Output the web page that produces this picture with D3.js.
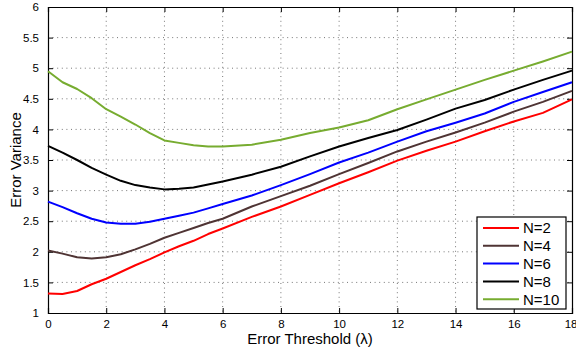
<!DOCTYPE html>
<html>
<head>
<meta charset="utf-8">
<script src="https://cdn.jsdelivr.net/npm/d3@7"></script>
<style>
  body { margin: 0; background: #fff; }
  text { font-family: "Liberation Sans", Arial, sans-serif; }
</style>
</head>
<body>
<div id="chart-area"></div>
<script>
// threshold values (x) shared by every curve
const thresholds = [0, 0.5, 1, 1.5, 2, 2.5, 3, 3.5, 4, 4.5, 5, 5.5, 6, 7, 8, 9, 10, 11, 12, 13, 14, 15, 16, 17, 18]

const n2 = [1.32, 1.31, 1.36, 1.47, 1.56, 1.67, 1.78, 1.88, 1.99, 2.09, 2.18, 2.29, 2.38, 2.57, 2.74, 2.93, 3.12, 3.30, 3.49, 3.65, 3.80, 3.97, 4.13, 4.27, 4.49]
const n4 = [2.02, 1.97, 1.91, 1.89, 1.91, 1.96, 2.04, 2.13, 2.23, 2.31, 2.39, 2.47, 2.54, 2.74, 2.91, 3.08, 3.27, 3.45, 3.64, 3.80, 3.95, 4.11, 4.29, 4.45, 4.63]
const n6 = [2.82, 2.73, 2.63, 2.54, 2.48, 2.46, 2.46, 2.49, 2.54, 2.59, 2.64, 2.71, 2.78, 2.92, 3.09, 3.27, 3.46, 3.62, 3.80, 3.97, 4.11, 4.26, 4.45, 4.61, 4.77]
const n8 = [3.73, 3.62, 3.50, 3.37, 3.26, 3.16, 3.09, 3.05, 3.02, 3.03, 3.05, 3.10, 3.15, 3.26, 3.39, 3.56, 3.72, 3.86, 3.99, 4.16, 4.34, 4.48, 4.65, 4.81, 4.96]
const n10 = [4.95, 4.77, 4.66, 4.51, 4.33, 4.21, 4.08, 3.94, 3.82, 3.78, 3.74, 3.72, 3.72, 3.75, 3.83, 3.94, 4.03, 4.15, 4.33, 4.49, 4.65, 4.81, 4.96, 5.11, 5.27]

const seriesNames = ["N=2", "N=4", "N=6", "N=8", "N=10"]
const seriesValues = [n2, n4, n6, n8, n10]
const seriesColors = ["#ff0000", "#4f3434", "#0000ff", "#000000", "#77ac30"]

const xTicks = [0, 2, 4, 6, 8, 10, 12, 14, 16, 18]
const yTicks = [1, 1.5, 2, 2.5, 3, 3.5, 4, 4.5, 5, 5.5, 6]

const MARGIN = { LEFT: 48, RIGHT: 4, TOP: 7, BOTTOM: 36 }
const WIDTH = 576 - MARGIN.LEFT - MARGIN.RIGHT
const HEIGHT = 349 - MARGIN.TOP - MARGIN.BOTTOM

const svg = d3.select("#chart-area")
  .append("svg")
  .attr("width", 576)
  .attr("height", 349)

const g = svg.append("g")
  .attr("transform", `translate(${MARGIN.LEFT}, ${MARGIN.TOP})`)

const x = d3.scaleLinear().domain([0, 18]).range([0, WIDTH])
const y = d3.scaleLinear().domain([1, 6]).range([HEIGHT, 0])

// dotted grid
g.append("g")
  .selectAll("line")
  .data(xTicks.slice(1, -1))
  .join("line")
    .attr("x1", d => x(d)).attr("x2", d => x(d))
    .attr("y1", 0).attr("y2", HEIGHT)
    .attr("stroke", "#777")
    .attr("stroke-dasharray", "1,3.6")

g.append("g")
  .selectAll("line")
  .data(yTicks.slice(1, -1))
  .join("line")
    .attr("x1", 0).attr("x2", WIDTH)
    .attr("y1", d => y(d)).attr("y2", d => y(d))
    .attr("stroke", "#777")
    .attr("stroke-dasharray", "1,3.6")

// axes, ticks pointing inward on all four sides
const TICK = 5
const xAxisGroup = g.append("g")
  .attr("transform", `translate(0,${HEIGHT})`)
  .call(d3.axisBottom(x).tickValues(xTicks).tickSize(-TICK).tickPadding(9).tickFormat(d3.format("d")))
const xTopGroup = g.append("g")
  .call(d3.axisTop(x).tickValues(xTicks).tickSize(-TICK).tickFormat(""))
const yAxisGroup = g.append("g")
  .call(d3.axisLeft(y).tickValues(yTicks).tickSize(-TICK).tickPadding(9).tickFormat(d => String(d)))
const yRightGroup = g.append("g")
  .attr("transform", `translate(${WIDTH},0)`)
  .call(d3.axisRight(y).tickValues(yTicks).tickSize(-TICK).tickFormat(""))

;[xAxisGroup, xTopGroup, yAxisGroup, yRightGroup].forEach(a => {
  a.select(".domain").attr("stroke", "#000").attr("stroke-width", 1.2)
  a.selectAll(".tick line").attr("stroke", "#000")
  a.selectAll("text")
    .attr("fill", "#000")
    .style("font-size", "11.5px")
})
xAxisGroup.selectAll("text").attr("dy", "0.5em")
// last label sits against the page edge, as in the source figure
xAxisGroup.selectAll(".tick:last-of-type text").attr("text-anchor", "end").attr("dx", "5px")

// curves
const line = d3.line()
  .x((d, i) => x(thresholds[i]))
  .y(d => y(d))

g.append("g")
  .selectAll("path")
  .data(seriesValues)
  .join("path")
    .attr("d", line)
    .attr("fill", "none")
    .attr("stroke", (d, i) => seriesColors[i])
    .attr("stroke-width", 2)
    .attr("stroke-linejoin", "round")

// axis labels
svg.append("text")
  .attr("x", MARGIN.LEFT + WIDTH / 2)
  .attr("y", 344)
  .attr("text-anchor", "middle")
  .attr("font-size", "15px")
  .text("Error Threshold (λ)")

svg.append("text")
  .attr("transform", `translate(21, ${MARGIN.TOP + HEIGHT / 2}) rotate(-90)`)
  .attr("text-anchor", "middle")
  .attr("font-size", "15px")
  .text("Error Variance")

// legend
const legend = svg.append("g").attr("transform", "translate(477, 217)")
legend.append("rect")
  .attr("width", 89).attr("height", 92)
  .attr("fill", "#fff").attr("stroke", "#000").attr("stroke-width", 1.2)

const rows = legend.selectAll("g.row")
  .data(seriesNames)
  .join("g")
    .attr("class", "row")
    .attr("transform", (d, i) => `translate(0, ${11 + i * 17.8})`)

rows.append("line")
  .attr("x1", 6).attr("x2", 42)
  .attr("stroke", (d, i) => seriesColors[i])
  .attr("stroke-width", 2)

rows.append("text")
  .attr("x", 46)
  .attr("dy", "0.36em")
  .attr("font-size", "15px")
  .text(d => d)
</script>
</body>
</html>
